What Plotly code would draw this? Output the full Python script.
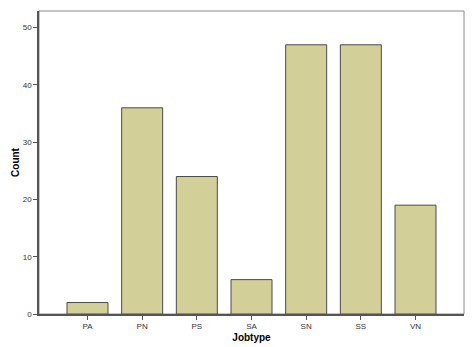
import plotly.graph_objects as go

categories = ["PA", "PN", "PS", "SA", "SN", "SS", "VN"]
counts = [2, 36, 24, 6, 47, 47, 19]
y_ticks = [0, 10, 20, 30, 40, 50]

fig = go.Figure()
fig.add_trace(go.Bar(
    x=categories, y=counts, width=0.75,
    marker=dict(color="#d3cf98", line=dict(color="#4a4a4a", width=1)),
))

fig.add_shape(type="rect", xref="paper", yref="paper", x0=0, y0=0, x1=1, y1=1,
              line=dict(color="#8a8a8a", width=1), layer="below")

fig.update_layout(
    width=474, height=347,
    margin=dict(l=39, r=10, t=11, b=33),
    plot_bgcolor="white", paper_bgcolor="white",
    showlegend=False,
    font=dict(family="Arial, Liberation Sans, sans-serif", color="#333"),
    xaxis=dict(
        range=[-0.887, 6.887], showgrid=False, zeroline=False, automargin=False,
        showline=True, linecolor="#555", linewidth=1.5,
        ticks="outside", ticklen=4, tickcolor="#555",
        tickfont=dict(size=8, color="#333"),
        title=dict(text="<b>Jobtype</b>", font=dict(size=10, color="#000"), standoff=4),
    ),
    yaxis=dict(
        range=[0, 52.9], showgrid=False, zeroline=False, automargin=False,
        showline=True, linecolor="#555", linewidth=1.5,
        tickvals=y_ticks, ticks="outside", ticklen=4, tickcolor="#555",
        tickfont=dict(size=8, color="#333"),
        title=dict(text="<b>Count</b>", font=dict(size=10, color="#000"), standoff=1),
    ),
)

fig.write_html("out.html")
